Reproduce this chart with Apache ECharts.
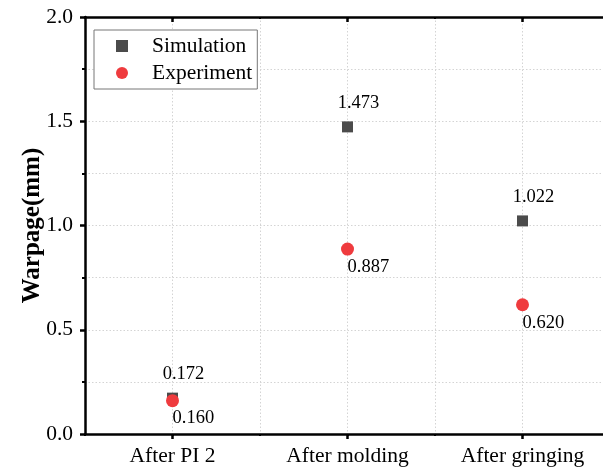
<!DOCTYPE html>
<html>
<head>
<meta charset="utf-8">
<script src="https://cdn.jsdelivr.net/npm/echarts@6/dist/echarts.min.js"></script>
<style>
  html, body { margin: 0; padding: 0; background: #fff; }
  #chart { width: 603px; height: 470px; }
</style>
</head>
<body>
<div id="chart"></div>
<script>
// Warpage at each process step: simulated vs. measured
var stages = ['After PI 2', 'After molding', 'After gringing'];
var simulation = [0.172, 1.473, 1.022];
var experiment = [0.160, 0.887, 0.620];
var yTicks = { min: 0, max: 2.0, interval: 0.5 };

var FONT = '"Liberation Serif", "Times New Roman", serif';
var AXIS_COLOR = '#000';
var SIM_COLOR = '#4b4b4b';
var EXP_COLOR = '#ef3b3e';
var GRID_LINE = { show: true, lineStyle: { color: '#d4d4d4', width: 1, type: [1.5, 2] } };

var chart = echarts.init(document.getElementById('chart'), null, { renderer: 'canvas' });

var option = {
  backgroundColor: '#fff',
  animation: false,
  // plot area runs past the right edge of the canvas
  grid: { left: 85, top: 17, width: 525, height: 417, containLabel: false, outerBoundsMode: 'none' },
  legend: {
    orient: 'vertical',
    left: 94,
    top: 30,
    padding: [5, 5, 5, 22],
    itemGap: 5,
    itemWidth: 12,
    itemHeight: 12,
    borderColor: '#777',
    borderWidth: 1,
    backgroundColor: '#fff',
    textStyle: { fontFamily: FONT, fontSize: 21.5, color: '#000', padding: [0, 0, 0, 19] },
    data: [
      { name: 'Simulation', icon: 'rect', itemStyle: { color: SIM_COLOR, opacity: 1 } },
      { name: 'Experiment', icon: 'circle', itemStyle: { color: EXP_COLOR, opacity: 1 } }
    ]
  },
  xAxis: [
    { // bottom category axis: labels, line, major ticks at category centres
      type: 'category', position: 'bottom', data: stages, boundaryGap: true,
      axisLine: { show: true, lineStyle: { color: AXIS_COLOR, width: 2.5 } },
      axisTick: { show: true, alignWithLabel: true, inside: false, length: 5, lineStyle: { color: AXIS_COLOR, width: 2.5 } },
      axisLabel: { fontFamily: FONT, fontSize: 21.5, color: '#000', margin: 11 },
      splitLine: { show: false }
    },
    { // bottom helper axis: minor ticks + vertical grid lines
      type: 'value', position: 'bottom', min: 0, max: 6, interval: 1,
      axisLine: { show: false },
      axisTick: { show: true, inside: false, length: 2, lineStyle: { color: AXIS_COLOR, width: 2 } },
      axisLabel: { show: false },
      splitLine: GRID_LINE
    },
    { // top frame line with inward ticks
      type: 'category', position: 'top', data: stages, boundaryGap: true,
      axisLine: { show: true, onZero: false, lineStyle: { color: AXIS_COLOR, width: 2.5 } },
      axisTick: { show: true, alignWithLabel: true, inside: true, length: 5, lineStyle: { color: AXIS_COLOR, width: 2.5 } },
      axisLabel: { show: false },
      splitLine: { show: false }
    },
    {
      type: 'value', position: 'top', min: 0, max: 6, interval: 1,
      axisLine: { show: false },
      axisTick: { show: true, inside: true, length: 2, lineStyle: { color: AXIS_COLOR, width: 2 } },
      axisLabel: { show: false },
      splitLine: { show: false }
    }
  ],
  yAxis: [{
    type: 'value', position: 'left',
    min: yTicks.min, max: yTicks.max, interval: yTicks.interval,
    name: 'Warpage(mm)', nameLocation: 'middle', nameGap: 40, nameMoveOverlap: false,
    nameTextStyle: { fontFamily: FONT, fontSize: 25, fontWeight: 'bold', color: '#000' },
    axisLine: { show: true, lineStyle: { color: AXIS_COLOR, width: 2.5 } },
    axisTick: { show: true, inside: false, length: 5, lineStyle: { color: AXIS_COLOR, width: 2.5 } },
    minorTick: { show: true, splitNumber: 2, length: 3, lineStyle: { color: AXIS_COLOR, width: 2 } },
    axisLabel: { fontFamily: FONT, fontSize: 21.5, color: '#000', margin: 12,
      formatter: function (v) { return v.toFixed(1); } },
    splitLine: GRID_LINE,
    minorSplitLine: GRID_LINE
  }],
  series: [
    {
      name: 'Simulation', type: 'scatter', xAxisIndex: 0, yAxisIndex: 0,
      symbol: 'rect', symbolSize: 11,
      itemStyle: { color: SIM_COLOR, opacity: 1 },
      data: simulation,
      z: 3,
      label: {
        show: true, position: 'top', distance: 9, offset: [11, 0],
        fontFamily: FONT, fontSize: 18.5, color: '#000',
        formatter: function (p) { return p.value.toFixed(3); }
      }
    },
    {
      name: 'Experiment', type: 'scatter', xAxisIndex: 0, yAxisIndex: 0,
      symbol: 'circle', symbolSize: 13,
      itemStyle: { color: EXP_COLOR, opacity: 1 },
      data: experiment,
      z: 4,
      label: {
        show: true, position: ['50%', '100%'], align: 'left', verticalAlign: 'top',
        offset: [0, 2],
        fontFamily: FONT, fontSize: 18.5, color: '#000',
        formatter: function (p) { return p.value.toFixed(3); }
      }
    }
  ]
};

chart.setOption(option);
</script>
</body>
</html>
